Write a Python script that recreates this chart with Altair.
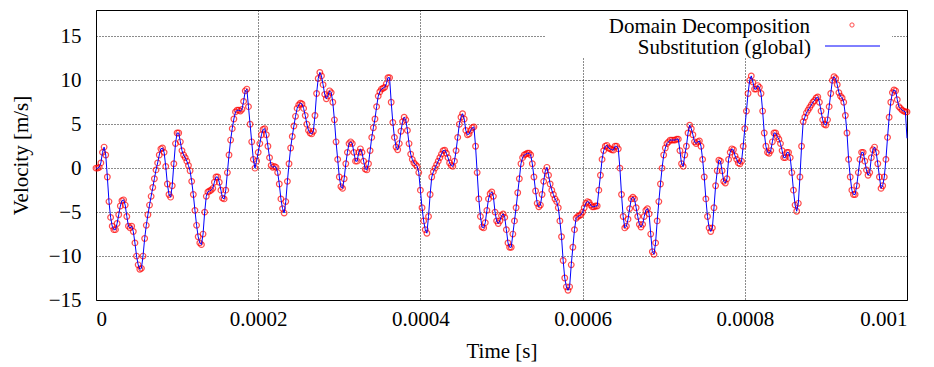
import altair as alt
import pandas as pd

TIME_STEP = 2e-6
dd_values = [
    0, 0, 0.1, 0.6, 1.8, 2.4, 1.5, -1.0, -3.8, -5.6,
    -6.6, -7.0, -7.0, -6.3, -5.3, -4.3, -3.7, -3.6, -4.2, -5.5,
    -6.6, -6.8, -6.6, -7.2, -8.5, -10.0, -11.0, -11.5, -11.4, -10.0,
    -8.0, -6.5, -5.3, -4.2, -3.2, -2.2, -1.2, -0.2, 0.6, 1.5,
    2.2, 2.3, 1.8, 0.2, -1.8, -3.0, -3.3, -2.0, 0.5, 2.8,
    4.0, 4.0, 3.0, 2.0, 1.5, 1.2, 0.8, 0.3, -0.3, -1.5,
    -3.0, -4.8, -6.5, -7.8, -8.5, -8.7, -7.5, -5.0, -3.2, -2.7,
    -2.6, -2.5, -2.3, -1.6, -1.0, -1.0, -1.6, -2.5, -3.4, -3.5,
    -2.5, -0.5, 1.5, 3.2, 4.5, 5.6, 6.4, 6.6, 6.6, 6.5,
    6.7, 7.6, 8.8, 9.0, 7.0, 5.0, 3.0, 1.0, 0.0, 0.8,
    1.8, 2.8, 3.8, 4.4, 4.5, 3.8, 2.5, 1.2, 0.3, 0.1,
    0.2, 0.1, -0.5, -1.8, -3.5, -4.6, -5.1, -3.8, -1.5, 0.5,
    2.3, 3.6, 4.8, 5.9, 6.8, 7.2, 7.4, 7.3, 6.8, 6.0,
    5.0, 4.3, 4.0, 3.9, 4.2, 6.0, 8.5, 10.2, 10.9, 10.5,
    9.5, 8.4, 7.9, 8.2, 8.8, 8.6, 7.5, 5.5, 3.0, 1.0,
    -1.0, -2.1, -2.3, -1.2, 0.5, 1.8, 2.8, 3.0, 2.8, 1.8,
    0.8, 0.8, 1.8, 2.2, 1.8, 0.8, -0.1, -0.2, 0.5, 2.0,
    3.5, 4.6, 5.6, 7.0, 8.2, 8.7, 9.0, 9.1, 9.2, 9.6,
    10.3, 10.3, 7.5, 5.2, 3.5, 2.4, 2.1, 2.8, 4.2, 5.3,
    5.8, 5.5, 4.3, 2.8, 1.6, 1.0, 0.6, 0.4, 0.2, -0.5,
    -2.5, -4.5, -6.0, -7.0, -7.4, -5.5, -3.0, -1.0, -0.4, 0.0,
    0.4, 0.8, 1.2, 1.6, 2.0, 2.05, 1.7, 1.2, 0.6, 0.3,
    0.2, 0.8, 2.0, 3.5, 5.0, 5.8, 6.2, 5.6, 4.3, 3.8,
    3.9, 4.3, 4.6, 4.7, 2.5, -0.5, -3.5, -5.5, -6.7, -6.8,
    -6.2, -4.8, -3.5, -2.9, -2.7, -3.2, -5.0, -6.0, -6.3, -6.0,
    -5.4, -5.2, -5.6, -7.0, -8.5, -9.0, -9.0, -7.5, -6.0, -4.5,
    -2.8, -1.2, 0.5, 1.2, 1.5, 1.6, 1.7, 1.7, 1.5, 0.5,
    -1.0, -2.6, -4.0, -4.4, -4.2, -3.0, -1.5, -0.3, 0.1, -0.8,
    -1.8, -2.5, -3.0, -3.5, -3.8, -4.5, -6.0, -7.8, -10.5, -12.5,
    -13.5, -13.9, -13.5, -11.0, -9.0, -7.0, -5.7, -5.5, -5.4, -5.3,
    -5.0, -4.5, -4.0, -3.8, -3.9, -4.2, -4.4, -4.4, -4.3, -4.3,
    -2.5, -0.8, 1.0, 2.0, 2.5, 2.6, 2.3, 2.2, 2.1, 2.05,
    2.5, 2.5, 2.2, 0.0, -3.0, -5.5, -6.8, -6.6, -5.8, -4.6,
    -3.5, -3.3, -3.5, -4.5, -5.5, -6.4, -6.7, -6.4, -5.5, -4.8,
    -4.6, -5.2, -7.5, -9.5, -9.8, -8.5, -6.0, -3.8, -1.8, 0.0,
    1.5, 2.3, 2.8, 3.0, 3.2, 3.2, 3.2, 3.2, 3.3, 3.3,
    2.0, 0.5, 0.2, 1.5, 2.5, 4.0, 4.9, 4.5, 3.8, 3.0,
    2.8, 3.0, 3.1, 2.5, 1.0, -1.0, -3.5, -5.5, -6.8, -7.2,
    -6.8, -4.5, -2.0, -0.3, 0.9, 0.8, -0.3, -1.5, -1.7, -1.2,
    1.0, 1.8, 2.2, 2.1, 1.4, 1.0, 0.6, 0.5, 0.8, 2.5,
    4.5, 6.5, 8.5, 10.0, 10.5, 9.8, 9.0, 9.0, 9.4, 9.2,
    8.5, 6.5, 4.0, 2.5, 1.8, 1.7, 2.0, 3.0, 4.0, 4.0,
    3.6, 3.3, 2.8, 2.0, 1.2, 1.2, 1.8, 1.8, 1.2, -0.5,
    -2.5, -4.2, -4.9, -4.0, -1.0, 2.5, 5.3, 5.8, 6.3, 6.6,
    6.9, 7.2, 7.5, 7.7, 8.0, 8.1, 7.5, 6.5, 5.5, 5.0,
    4.9, 5.5, 7.0, 8.5, 10.0, 10.4, 10.2, 9.5, 8.6, 8.2,
    8.0, 7.5, 6.0, 4.0, 1.0, -1.0, -2.5, -3.0, -3.0, -2.0,
    -0.5, 1.0, 1.8, 1.8, 0.8, -0.2, -0.8, -0.5, 1.2, 2.1,
    2.4, 1.8, 0.5, -1.0, -2.3, -2.0, -1.0, 1.0, 3.5, 5.8,
    7.5, 8.6, 8.9, 8.8, 7.8, 7.0, 6.8, 6.6, 6.5, 6.4,
    6.4,
]
subst_last_value = 3.4  # the global solution drops at the very end

times = [i * TIME_STEP for i in range(len(dd_values))]
subst_values = dd_values[:-1] + [subst_last_value]

x_ticks = [0, 0.0002, 0.0004, 0.0006, 0.0008, 0.001]
y_ticks = [-15, -10, -5, 0, 5, 10, 15]
legend_labels = ["Domain Decomposition", "Substitution (global)"]

dd_df = pd.DataFrame({"t": times, "v": dd_values})
su_df = pd.DataFrame({"t": times, "v": subst_values})

FONT = "'Liberation Serif', 'Times New Roman', Times, 'DejaVu Serif', serif"
FS = 21

axis_style = dict(
    grid=True, gridColor="black", gridDash=[1, 2], gridWidth=1, gridOpacity=0.9,
    domain=False, ticks=False,
    labelFont=FONT, labelFontSize=FS, labelColor="black",
    titleFont=FONT, titleFontSize=FS, titleColor="black", titleFontWeight="normal",
)

x_enc = alt.X(
    "t:Q",
    scale=alt.Scale(domain=[0, 0.001], nice=False, zero=False),
    axis=alt.Axis(values=x_ticks, format=".4~f", title="Time [s]",
                  titlePadding=11, labelPadding=8, **axis_style),
)
y_enc = alt.Y(
    "v:Q",
    scale=alt.Scale(domain=[-15, 18], nice=False, zero=False),
    axis=alt.Axis(values=y_ticks, title="Velocity [m/s]",
                  titlePadding=17, labelPadding=15, **axis_style),
)

points = alt.Chart(dd_df).mark_point(
    shape="circle", filled=False, color="#ff0000", size=32, strokeWidth=1.2
).encode(x=x_enc, y=y_enc)

line = alt.Chart(su_df).mark_line(color="#0000ff", strokeWidth=1).encode(
    x="t:Q", y="v:Q"
)

one = pd.DataFrame({"k": [0]})
legend_bg = alt.Chart(one).mark_rect(fill="white").encode(
    x=alt.value(449), x2=alt.value(796), y=alt.value(1), y2=alt.value(47)
)
legend_t1 = alt.Chart(one).mark_text(
    text=legend_labels[0], align="right", baseline="alphabetic", font=FONT,
    fontSize=FS, color="black"
).encode(x=alt.value(714), y=alt.value(22.5))
legend_t2 = alt.Chart(one).mark_text(
    text=legend_labels[1], align="right", baseline="alphabetic", font=FONT,
    fontSize=FS, color="black"
).encode(x=alt.value(715), y=alt.value(44))
legend_pt = alt.Chart(one).mark_point(
    shape="circle", filled=False, color="#ff0000", size=18, strokeWidth=1
).encode(x=alt.value(756), y=alt.value(15))
legend_ln = alt.Chart(one).mark_rule(color="#0000ff", strokeWidth=1).encode(
    x=alt.value(729), x2=alt.value(784), y=alt.value(36)
)

chart = (
    alt.layer(legend_bg, points, line, legend_t1, legend_t2, legend_pt, legend_ln)
    .properties(
        width=811, height=290,
        autosize=alt.AutoSizeParams(type="none"),
        padding={"left": 88, "top": 2, "right": 15, "bottom": 63},
    )
    .configure(
        font=FONT,
        view={"stroke": "black", "strokeWidth": 1},
        axis=axis_style,
        style={
            "guide-label": {"font": FONT, "fontSize": FS, "fill": "black"},
            "guide-title": {"font": FONT, "fontSize": FS, "fill": "black"},
        },
    )
)

chart.save("out.html", embed_options={"renderer": "svg", "actions": False})
